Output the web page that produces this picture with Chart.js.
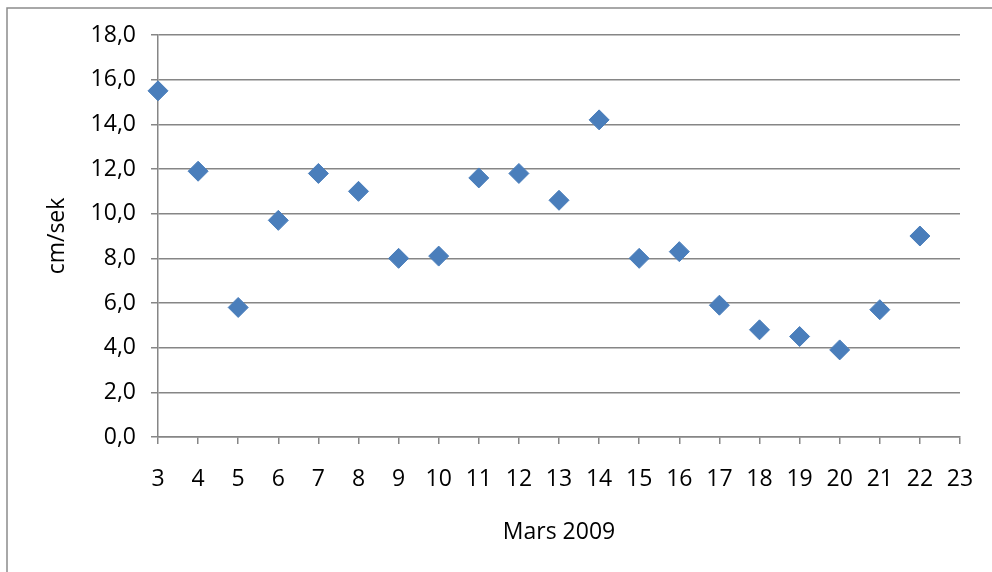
<!DOCTYPE html>
<html>
<head>
<meta charset="utf-8">
<script src="https://cdn.jsdelivr.net/npm/chart.js@4/dist/chart.umd.min.js"></script>
<style>
  html, body { margin: 0; padding: 0; background: #fff; }
  #wrap { position: relative; width: 992px; height: 572px; }
</style>
</head>
<body>
<div id="wrap"><canvas id="chart"></canvas></div>
<script>
// Daily flow speed, March 2009 (cm/sek)
const days = [3, 4, 5, 6, 7, 8, 9, 10, 11, 12, 13, 14, 15, 16, 17, 18, 19, 20, 21, 22];
const speeds = [15.5, 11.9, 5.8, 9.7, 11.8, 11.0, 8.0, 8.1, 11.6, 11.8, 10.6, 14.2, 8.0, 8.3, 5.9, 4.8, 4.5, 3.9, 5.7, 9.0];
const xTitle = 'Mars 2009';
const yTitle = 'cm/sek';

const points = days.map((d, i) => ({ x: d, y: speeds[i] }));

const GRAY = '#868686';
const FONT = "'Open Sans', sans-serif";
const FSIZE = 23;

// Outer frame line (left and top edges)
const framePlugin = {
  id: 'frame',
  beforeDraw(chart) {
    const ctx = chart.ctx;
    ctx.save();
    ctx.strokeStyle = '#8c8c8c';
    ctx.lineWidth = 1.5;
    ctx.beginPath();
    ctx.moveTo(7, chart.height);
    ctx.lineTo(7, 8);
    ctx.lineTo(chart.width, 8);
    ctx.stroke();
    ctx.restore();
  }
};

new Chart(document.getElementById('chart'), {
  type: 'scatter',
  data: {
    datasets: [{
      data: points,
      pointStyle: 'rectRot',
      pointRadius: 10,
      pointHoverRadius: 10,
      backgroundColor: '#4A7EBB',
      borderColor: '#4A7EBB',
      borderWidth: 1,
      clip: false
    }]
  },
  options: {
    responsive: true,
    maintainAspectRatio: false,
    animation: false,
    layout: { padding: { left: 0, top: 35, right: 32, bottom: 0 } },
    plugins: {
      legend: { display: false },
      tooltip: { enabled: false }
    },
    scales: {
      x: {
        type: 'linear',
        min: 3,
        max: 23,
        afterFit(scale) {
          scale.height = 135;
          scale.paddingLeft = 0;
          scale.paddingRight = 0;
        },
        border: { color: GRAY, width: 1.5 },
        grid: { drawOnChartArea: false, drawTicks: true, tickLength: 7, color: GRAY, lineWidth: 1.5 },
        ticks: {
          stepSize: 1,
          padding: 22,
          color: '#000',
          font: { family: FONT, size: FSIZE },
          maxRotation: 0,
          autoSkip: false,
          callback: v => String(v)
        },
        title: {
          display: true,
          text: xTitle,
          color: '#000',
          font: { family: FONT, size: FSIZE },
          padding: { top: 0, bottom: 26 }
        }
      },
      y: {
        min: 0,
        max: 18,
        afterFit(scale) { scale.width = 158; },
        border: { color: GRAY, width: 1.5 },
        grid: { color: GRAY, lineWidth: 1.5, tickLength: 7 },
        ticks: {
          stepSize: 2,
          padding: 15,
          color: '#000',
          font: { family: FONT, size: FSIZE },
          callback: v => v.toFixed(1).replace('.', ',')
        },
        title: {
          display: true,
          text: yTitle,
          color: '#000',
          font: { family: FONT, size: FSIZE },
          padding: { top: 44, bottom: 0 }
        }
      }
    }
  },
  plugins: [framePlugin]
});
</script>
</body>
</html>
